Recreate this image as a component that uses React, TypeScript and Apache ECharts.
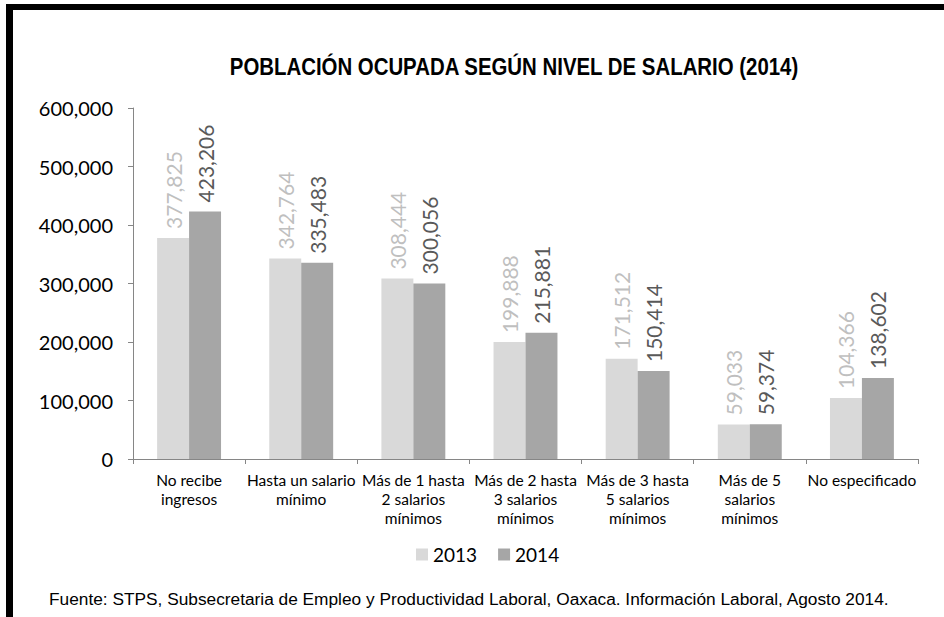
import React, { useEffect, useRef } from "react";
import * as echarts from "echarts";

const categories = [
  "No recibe\ningresos",
  "Hasta un salario\nmínimo",
  "Más de 1 hasta\n2 salarios\nmínimos",
  "Más de 2 hasta\n3 salarios\nmínimos",
  "Más de 3 hasta\n5 salarios\nmínimos",
  "Más de 5\nsalarios\nmínimos",
  "No especificado",
];
const values2013 = [377825, 342764, 308444, 199888, 171512, 59033, 104366];
const values2014 = [423206, 335483, 300056, 215881, 150414, 59374, 138602];
const seriesNames = ["2013", "2014"];

const fmt = (v: number) => v.toLocaleString("en-US");
const labelFont = "Lato, 'Open Sans', sans-serif";

export default function App() {
  const ref = useRef<HTMLDivElement>(null);
  useEffect(() => {
    if (!ref.current) return;
    const chart = echarts.init(ref.current, undefined, { renderer: "svg" });
    const barLabel = (color: string) => ({
      show: true,
      position: "top",
      rotate: 90,
      align: "left",
      verticalAlign: "middle",
      distance: 9,
      formatter: (p: any) => fmt(p.value),
      fontFamily: labelFont,
      fontSize: 21,
      color,
    });
    chart.setOption({
      animation: false,
      backgroundColor: "#ffffff",
      legend: {
        data: seriesNames,
        left: 411,
        top: 540,
        itemWidth: 12,
        itemHeight: 12,
        itemGap: 21,
        icon: "rect",
        textStyle: { fontFamily: labelFont, fontSize: 19, color: "#000000" },
      },
      grid: { left: 133, right: 26, top: 108, bottom: 158, containLabel: false },
      xAxis: {
        type: "category",
        data: categories,
        axisLine: { show: true, lineStyle: { color: "#868686", width: 1 } },
        axisTick: { show: true, length: 5, lineStyle: { color: "#868686" } },
        axisLabel: {
          interval: 0,
          margin: 11,
          fontFamily: labelFont,
          fontSize: 15.5,
          lineHeight: 19,
          color: "#000000",
        },
      },
      yAxis: {
        type: "value",
        min: 0,
        max: 600000,
        interval: 100000,
        splitLine: { show: false },
        axisLine: { show: true, lineStyle: { color: "#868686", width: 1 } },
        axisTick: { show: true, length: 5, lineStyle: { color: "#868686" } },
        axisLabel: {
          margin: 20,
          formatter: (v: number) => fmt(v),
          fontFamily: labelFont,
          fontSize: 20,
          color: "#000000",
        },
      },
      series: [
        {
          name: seriesNames[0],
          type: "bar",
          data: values2013,
          barGap: "0%",
          barCategoryGap: "43%",
          itemStyle: { color: "#d9d9d9" },
          label: barLabel("#bfbfbf"),
        },
        {
          name: seriesNames[1],
          type: "bar",
          data: values2014,
          barGap: "0%",
          barCategoryGap: "43%",
          itemStyle: { color: "#a6a6a6" },
          label: barLabel("#595959"),
        },
      ],
      graphic: [
        { type: "rect", shape: { x: 6, y: 4, width: 938, height: 6 }, style: { fill: "#000000" } },
        { type: "rect", shape: { x: 6, y: 4, width: 7, height: 613 }, style: { fill: "#000000" } },
        {
          type: "text",
          x: 514,
          y: 67,
          scaleX: 0.85,
          style: {
            text: "POBLACIÓN OCUPADA SEGÚN NIVEL DE SALARIO (2014)",
            fontFamily: "'Liberation Sans', Arial, sans-serif",
            fontWeight: "bold",
            fontSize: 24,
            fill: "#000000",
            align: "center",
            verticalAlign: "middle",
          },
        },
        {
          type: "text",
          left: 49,
          top: 590,
          style: {
            text: "Fuente: STPS, Subsecretaria de Empleo y Productividad Laboral, Oaxaca. Información Laboral, Agosto 2014.",
            fontFamily: "'Liberation Sans', Arial, sans-serif",
            fontSize: 17.3,
            fill: "#000000",
          },
        },
      ],
    });
    return () => chart.dispose();
  }, []);
  return (
    <div
      ref={ref}
      style={{ position: "absolute", left: 0, top: 0, width: 944, height: 617 }}
    />
  );
}
